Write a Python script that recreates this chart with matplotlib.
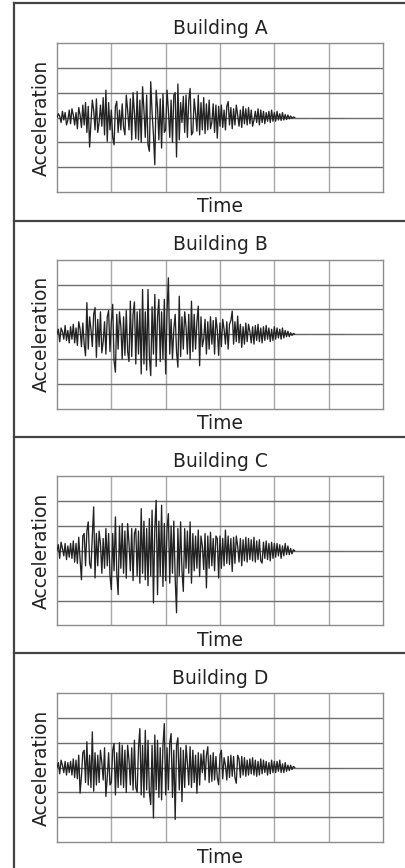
import numpy as np
import matplotlib
matplotlib.use('Agg')
import matplotlib.pyplot as plt
from matplotlib.lines import Line2D

# building names
buildings = ['Building A', 'Building B', 'Building C', 'Building D']

# sample step (grid units) and quiet tail of each record
dt = 0.025
quiet_end = [5.3, 5.3, 5.3, 5.3]

# acceleration samples (grid units, 10 samples per row)
acc_a = [
    0.0, 0.15, 0.05, -0.2, 0.25, -0.1, 0.2, -0.3, -0.1, 0.3,
    -0.25, 0.35, 0.1, -0.3, 0.2, -0.45, 0.4, 0.1, -0.4, 0.5,
    -0.3, 0.6, -0.6, 0.45, -1.19, -0.2, 0.7, 0.3, -0.5, 0.75,
    -0.6, -0.2, 0.5, -0.35, 0.8, -0.7, 1.1, -0.96, 0.6, -0.5,
    0.3, -0.8, -1.1, 0.45, 0.65, -0.6, 0.3, -0.5, 0.55, -0.4,
    -0.7, 0.9, 0.3, -0.5, 0.75, -0.9, 1.0, 0.2, -0.85, 1.05,
    -0.9, 0.7, -1.0, 1.24, 0.3, -0.8, 0.9, -1.1, -1.36, 1.44,
    0.2, -0.7, -1.9, 1.1, 0.4, -0.9, 0.75, -1.23, 0.95, -0.6,
    -0.5, 1.1, 0.3, -0.8, 0.7, -1.0, 0.9, 1.0, -1.59, 1.35,
    -0.9, 0.6, -0.2, 0.85, -0.6, 0.9, -0.8, 0.7, 1.17, -0.7,
    -0.6, 0.75, 0.2, -0.55, 0.9, -0.7, 0.6, -0.5, 0.8, -0.65,
    0.55, -0.5, 0.7, -0.45, -0.2, 0.55, -0.6, 0.5, -0.83, 0.45,
    -0.35, 0.5, -0.4, 0.3, -0.5, 0.45, 0.64, -0.3, 0.4, -0.45,
    0.35, -0.3, 0.5, 0.1, -0.35, 0.3, -0.4, 0.45, -0.25, 0.35,
    -0.3, 0.4, -0.25, 0.3, -0.35, -0.1, 0.25, -0.2, 0.35, -0.3,
    0.3, -0.2, 0.25, -0.25, 0.2, -0.15, 0.25, -0.2, 0.3, -0.15,
    0.2, -0.15, 0.25, -0.1, 0.15, -0.12, 0.2, -0.1, 0.12, -0.08,
    0.1, -0.05, 0.06, -0.03, 0.02, 0.0,
]
acc_b = [
    0.0, 0.2, -0.3, 0.25, 0.1, -0.2, 0.35, -0.25, 0.15, -0.35,
    0.3, -0.2, 0.4, -0.35, 0.25, -0.45, 0.5, 0.2, -0.5, 0.45,
    -0.4, -0.87, 1.27, -0.6, 0.7, 0.2, -0.5, 0.8, 1.07, -0.93,
    0.6, -0.5, 0.9, -0.75, -0.3, 0.5, -0.8, 0.7, 0.95, -0.7,
    0.5, 1.2, -1.07, -1.53, 0.8, -0.6, 0.9, 0.3, -1.0, 0.7,
    -0.85, 0.95, -0.7, -1.1, 1.33, -0.9, 0.8, 1.3, -1.2, 0.9,
    -0.8, 1.0, -1.6, 1.8, -1.2, 0.9, -1.45, 1.8, -0.9, -1.67,
    1.1, -0.8, 1.6, -1.3, 0.7, 1.4, -1.1, 0.9, -1.0, 1.4,
    -1.6, 0.9, 2.27, -0.8, 0.6, -1.0, 0.2, 0.8, -0.7, -1.33,
    1.53, -0.9, 0.7, -0.6, 0.9, 0.3, -0.8, 0.8, -1.0, 1.33,
    -0.7, 0.8, -0.6, 0.5, 1.13, -1.27, 0.7, -0.5, -0.2, 0.6,
    -0.8, 0.5, -0.6, 0.7, -0.4, 0.55, -0.8, 0.67, 0.2, -0.85,
    0.45, -0.5, 0.6, 0.2, -0.4, 0.5, -0.6, 0.4, 0.55, 0.93,
    -0.4, 0.5, -0.3, 0.73, -0.35, 0.4, -0.53, 0.3, -0.4, 0.45,
    -0.3, 0.4, 0.1, -0.35, 0.3, -0.4, 0.35, -0.25, 0.4, -0.3,
    0.25, -0.35, 0.3, -0.25, 0.35, -0.2, 0.25, -0.3, 0.2, -0.25,
    0.3, -0.2, 0.25, -0.15, 0.2, -0.2, 0.25, -0.15, 0.15, -0.1,
    0.12, -0.1, 0.06, -0.05, 0.03, 0.0,
]
acc_c = [
    0.0, 0.25, -0.3, 0.35, 0.1, -0.2, 0.3, -0.35, 0.2, -0.25,
    0.3, -0.3, 0.4, -0.45, 0.3, -0.5, 0.55, -0.35, -1.16, 0.6,
    0.7, -0.6, 0.8, 1.17, -0.5, -0.7, 0.6, 1.77, -1.09, 0.7,
    -0.6, 0.8, 0.3, -0.9, 0.5, -0.7, 0.9, -0.6, 0.7, -1.0,
    -1.56, 0.7, -0.8, 1.37, -0.9, -1.76, 1.0, -0.7, 1.1, -0.9,
    0.8, -1.1, 1.1, 0.3, -0.8, 0.9, -1.2, 0.7, 0.9, -1.0,
    0.8, -1.3, 1.7, -0.9, 1.2, -1.16, 0.9, -1.4, 1.3, -1.0,
    1.64, -2.09, 0.9, 2.04, -1.76, 1.2, -1.0, 1.84, -1.43, 1.1,
    -1.2, 0.9, 1.5, -1.3, 1.0, -0.9, 1.2, -1.1, -2.49, 0.9,
    -1.0, 1.17, -0.8, -1.63, 0.9, -0.7, 0.8, -0.9, 1.17, -1.3,
    0.7, -0.8, 0.6, -0.7, 0.84, -1.03, 0.6, 0.2, -0.75, 0.7,
    -1.49, 0.6, -0.7, 0.75, -0.6, 0.5, -0.8, 0.6, 0.5, -1.09,
    0.6, -0.7, 0.5, -0.6, 0.84, -0.5, 0.6, -0.55, 0.5, -0.83,
    0.55, -0.5, 0.6, 0.2, -0.45, 0.5, -0.6, 0.45, -0.4, 0.55,
    -0.45, 0.5, -0.35, 0.45, -0.4, 0.55, -0.45, 0.4, -0.35, 0.45,
    -0.4, -0.49, 0.35, -0.3, 0.4, -0.35, 0.3, -0.4, 0.35, -0.3,
    0.3, -0.25, 0.3, -0.2, 0.25, -0.3, 0.2, -0.2, 0.3, -0.15,
    0.2, -0.15, 0.1, -0.12, 0.05, 0.0,
]
acc_d = [
    0.0, 0.2, -0.25, 0.3, 0.1, -0.2, 0.25, -0.3, 0.2, -0.2,
    0.25, -0.3, 0.35, -0.4, 0.3, -0.45, 0.5, -1.03, -0.35, 0.6,
    0.7, -0.6, 1.04, -0.7, 0.5, -0.8, 1.44, -0.95, 0.6, -0.7,
    0.5, -0.6, 0.7, 0.2, -0.5, 0.8, -1.16, -0.4, 0.6, -0.7,
    -0.6, 0.7, 0.97, -1.1, 0.6, -0.8, 1.0, -0.7, 0.9, -0.8,
    0.7, -1.0, 0.9, 0.3, -0.7, 0.8, -0.9, 1.1, -0.8, -1.0,
    0.8, 1.57, -1.1, 0.9, -1.2, 1.5, -0.9, 1.1, -1.0, -1.49,
    0.9, -2.03, 1.31, -0.9, 1.1, -1.2, 0.8, -1.3, 0.9, 1.77,
    -1.1, 0.8, -0.9, 1.0, 1.37, -1.2, 0.7, -2.09, 0.9, 1.2,
    -0.9, 0.8, -1.37, 0.7, -0.8, 0.9, 0.2, -0.7, 0.84, -0.8,
    0.7, -0.6, 0.5, -1.03, 0.6, -0.7, 0.55, -0.2, 0.7, -0.5,
    0.5, 0.84, -0.6, 0.5, -0.55, 0.6, -0.5, 0.45, -0.4, -0.69,
    0.5, 0.7, -0.45, 0.4, 0.1, -0.5, 0.45, -0.4, 0.5, -0.35,
    0.45, -0.4, -0.63, 0.5, 0.35, -0.4, 0.45, -0.3, 0.4, -0.35,
    0.3, -0.3, 0.35, -0.25, 0.4, -0.3, 0.3, -0.35, 0.25, -0.3,
    0.35, -0.25, 0.3, -0.2, 0.25, -0.3, 0.2, -0.25, 0.3, -0.2,
    0.25, -0.2, 0.25, -0.15, 0.3, -0.2, 0.15, -0.2, 0.2, -0.15,
    0.1, -0.12, 0.1, -0.08, 0.05, 0.0,
]
records = [acc_a, acc_b, acc_c, acc_d]

W, H = 405, 868
fig = plt.figure(figsize=(W / 100, H / 100), dpi=100)
fig.patch.set_facecolor('white')

txt = dict(fontsize=13.5, color='#222222', family='DejaVu Sans')

# outer frame: left border and separators between panels
frame_c = '#444444'
fig.add_artist(Line2D([13.5 / W, 13.5 / W], [0, 1 - 3 / H], transform=fig.transFigure, color=frame_c, lw=1.6))
for ys in [3, 221, 437, 653]:
    fig.add_artist(Line2D([13.5 / W, 1], [1 - ys / H, 1 - ys / H], transform=fig.transFigure, color=frame_c, lw=1.6))

left, right = 57, 383
for i, (name, acc) in enumerate(zip(buildings, records)):
    top = 43 + 216.7 * i
    bot = top + 149
    ax = fig.add_axes([left / W, 1 - bot / H, (right - left) / W, (bot - top) / H])
    t = np.arange(len(acc)) * dt
    ax.plot(t, acc, color='#222222', lw=0.95, zorder=3)
    ax.plot([t[-1], quiet_end[i]], [0, 0], color='#666666', lw=0.8, ls=(0, (1.5, 1)), zorder=3)
    ax.set_xlim(0, 6)
    ax.set_ylim(-3, 3)
    for xv in range(1, 6):
        ax.axvline(xv, color='#a8a8a8', lw=1.0, zorder=1)
    for yv in range(-2, 3):
        ax.axhline(yv, color='#6e6e6e', lw=1.0, zorder=1)
    ax.set_xticks([])
    ax.set_yticks([])
    for s in ax.spines.values():
        s.set_color('#8c8c8c')
        s.set_linewidth(1.0)

    fig.text((left + right) / 2 / W, 1 - (top - 15) / H, name, ha='center', va='center', **txt)
    fig.text((left + right) / 2 / W, 1 - (bot + 15) / H, 'Time', ha='center', va='center', **txt)
    fig.text(41 / W, 1 - (top + bot) / 2 / H, 'Acceleration', rotation=90, ha='center', va='center', **txt)

fig.savefig('out.png', dpi=100, facecolor='white')
